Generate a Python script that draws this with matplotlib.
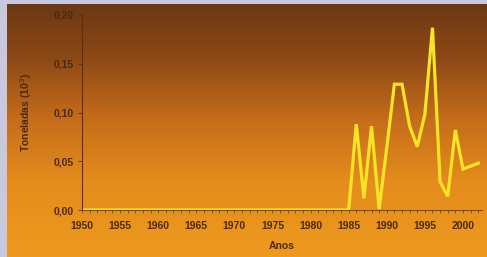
import numpy as np
import matplotlib
matplotlib.use("Agg")
import matplotlib.pyplot as plt
from matplotlib.colors import LinearSegmentedColormap
from matplotlib.ticker import MultipleLocator, FixedLocator

years = list(range(1950, 2003))
values_tail = [0.088, 0.012, 0.086, 0.001, 0.064, 0.129, 0.129, 0.086, 0.065,
               0.098, 0.187, 0.029, 0.014, 0.082, 0.042, 0.045, 0.048]
values = [0.0] * (len(years) - len(values_tail)) + values_tail
xticks = [1950, 1955, 1960, 1965, 1970, 1975, 1980, 1985, 1990, 1995, 2000]
yticks = [0.0, 0.05, 0.10, 0.15, 0.20]
ytick_labels = ["0,00", "0,05", "0,10", "0,15", "0,20"]

plt.rcParams['font.family'] = ['Liberation Sans', 'DejaVu Sans']

W, H = 487, 257
fig = plt.figure(figsize=(W / 100, H / 100), dpi=100)
fig.patch.set_facecolor('#c9c8de')

# background gradient panel
bg = fig.add_axes([7 / W, 0, 1 - 7 / W, (H - 4) / H])
bg.set_axis_off()
cmap = LinearSegmentedColormap.from_list(
    'bg', [(0.0, '#6b3814'), (0.22, '#8e4a16'), (0.45, '#c46c1a'),
           (0.7, '#e48c1c'), (1.0, '#ee9a1e')])
grad = np.linspace(0, 1, 256).reshape(-1, 1)
bg.imshow(grad, aspect='auto', cmap=cmap, extent=[0, 1, 1, 0])

ax = fig.add_axes([82 / W, 47 / H, 400 / W, 195 / H])
ax.patch.set_alpha(0)
ax.plot(years, values, color='#f7e426', lw=2.3, solid_joinstyle='miter')
ax.set_xlim(1950, 2002.5)
ax.set_ylim(0, 0.2)

tc = '#4a2a10'
for s in ['top', 'right']:
    ax.spines[s].set_visible(False)
ax.spines['left'].set_color('#5a3010')
ax.spines['left'].set_linewidth(0.8)
ax.spines['bottom'].set_color('#6a5020')
ax.spines['bottom'].set_linewidth(0.8)

ax.xaxis.set_major_locator(FixedLocator(xticks))
ax.set_xticklabels([str(x) for x in xticks])
ax.xaxis.set_minor_locator(MultipleLocator(1))
ax.set_yticks(yticks)
ax.set_yticklabels(ytick_labels)
ax.tick_params(axis='x', which='both', length=2, color='#6a5020', width=0.6,
               labelsize=7.5, labelcolor=tc, pad=6)
ax.tick_params(axis='y', length=3, color='#5a3010', width=0.6,
               labelsize=7.5, labelcolor=tc, pad=3)
for lab in ax.get_xticklabels() + ax.get_yticklabels():
    lab.set_fontweight('bold')

ax.set_xlabel('Anos', fontsize=7.5, fontweight='bold', color=tc, labelpad=7)
ax.set_ylabel('Toneladas (10$^3$)', fontsize=7.5, fontweight='bold', color=tc, labelpad=14)

fig.savefig('out.png', dpi=100, facecolor=fig.get_facecolor())
